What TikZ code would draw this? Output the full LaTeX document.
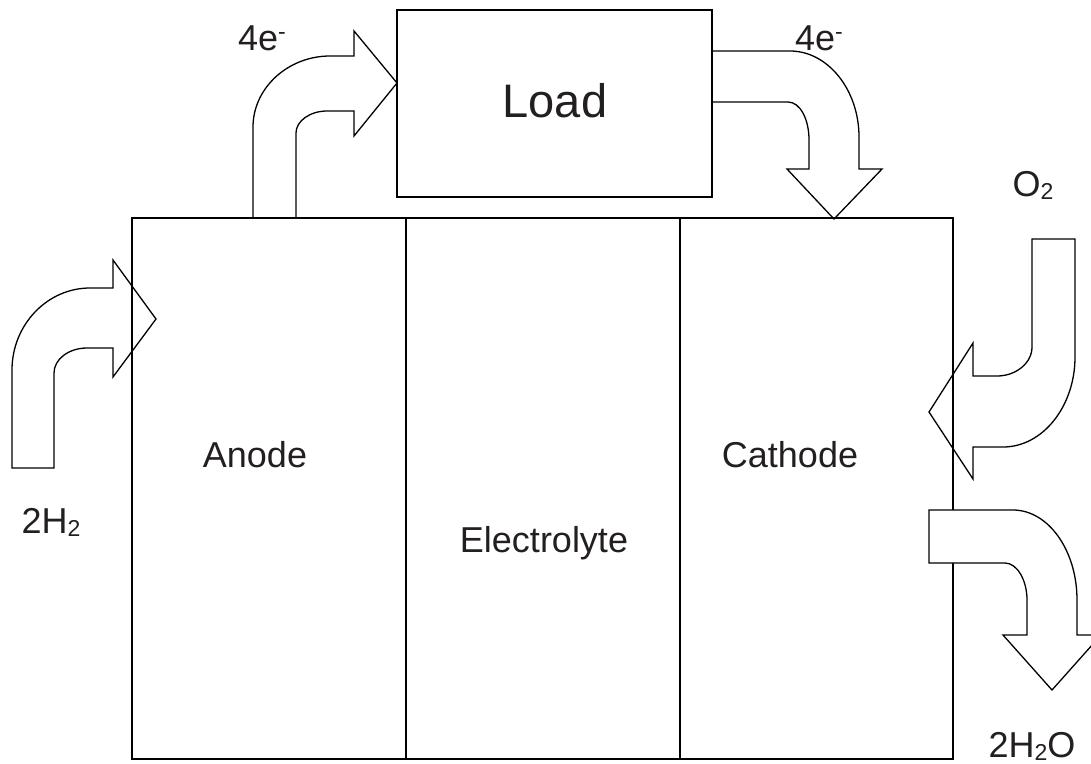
\documentclass[tikz,border=0pt]{standalone}
\usepackage{fontspec}
\setmainfont{Liberation Sans}
\definecolor{txt}{HTML}{231F20}
\newcommand{\lowsub}[1]{\raisebox{-3pt}{\fontsize{23}{23}\selectfont #1}}
\newcommand{\hisup}[1]{\raisebox{11pt}{\fontsize{23}{23}\selectfont #1}}
\begin{document}
\begin{tikzpicture}[x=1pt,y=-1pt,
  outline/.style={draw=black,line width=1.3pt,line join=miter},
  blockarrow/.style={draw=black,line width=1.3pt,line join=miter},
  lbl/.style={text=txt,anchor=base,inner sep=0pt,font=\fontsize{36}{40}\selectfont},
  bigl/.style={text=txt,anchor=base,inner sep=0pt,font=\fontsize{47}{52}\selectfont}]
\useasboundingbox (0,0) rectangle (1091,763);
% cell rectangles
\node[outline,minimum width=274pt,minimum height=541pt,inner sep=0pt] (anode) at (269,488.5) {};
\node[outline,minimum width=274pt,minimum height=541pt,inner sep=0pt] (elec) at (543,488.5) {};
\node[outline,minimum width=273pt,minimum height=541pt,inner sep=0pt] (cath) at (816.5,488.5) {};
\node[outline,fill=white,minimum width=315pt,minimum height=187pt,inner sep=0pt] (load) at (554.5,103.5) {};
% labels
\node[bigl] (loadlbl) at (555,117) {Load};
\node[lbl] (anodelbl) at (255,467) {Anode};
\node[lbl] (cathlbl) at (790,467) {Cathode};
\node[lbl] (eleclbl) at (544,552) {Electrolyte};
\node[lbl] (e1) at (262,50) {4e\hisup{-}};
\node[lbl] (e2) at (819,50) {4e\hisup{-}};
\node[lbl] (o2) at (1033,196) {O\lowsub{2}};
\node[lbl] (h2) at (51,533) {2H\lowsub{2}};
\node[lbl] (h2o) at (1032,757) {2H\lowsub{2}O};
% H2 inlet arrow
\draw[blockarrow] (12,468) -- (12,370) .. controls (12,325) and (47,288) .. (90,288)
  -- (113,288) -- (113,260) -- (156,319) -- (113,377) -- (113,348) -- (87,348)
  .. controls (69,348) and (54,359) .. (54,373) -- (54,468) -- cycle;
% electrons out of anode
\draw[blockarrow] (253,218) -- (253,127) .. controls (253,88) and (288,56) .. (330,56)
  -- (354,56) -- (354,31) -- (397,83) -- (354,136) -- (354,111) -- (327,111)
  .. controls (310,111) and (296,121) .. (296,133) -- (296,218);
% electrons into cathode
\draw[blockarrow] (712,51) -- (790,51) .. controls (828,51) and (859,90) .. (859,137)
  -- (859,169) -- (882,169) -- (834,219) -- (787,169) -- (809,169) -- (809,140)
  .. controls (809,119) and (800,102) .. (788,102) -- (712,102);
% O2 inlet arrow
\draw[blockarrow] (1032,239) -- (1075,239) -- (1075,357) .. controls (1075,406) and (1043,447) .. (1003,447)
  -- (973,447) -- (973,479) -- (929,412) -- (973,343) -- (973,376) -- (997,376)
  .. controls (1016,376) and (1032,363) .. (1032,347) -- cycle;
% water outlet arrow
\draw[blockarrow,fill=white] (929,510) -- (1013,510) .. controls (1048,510) and (1077,550) .. (1077,600)
  -- (1077,635) -- (1101,635) -- (1052,690) -- (1003,635) -- (1027,635) -- (1027,600)
  .. controls (1027,580) and (1017,563) .. (1005,563) -- (929,563) -- cycle;
\end{tikzpicture}
\end{document}
